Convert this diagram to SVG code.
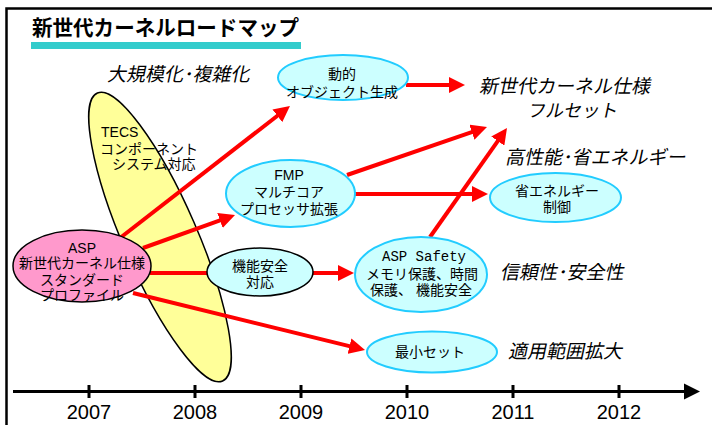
<svg xmlns="http://www.w3.org/2000/svg" width="712" height="425" viewBox="0 0 712 425">
<style>
.t{font-family:"Liberation Sans","Noto Sans CJK JP",sans-serif;font-size:14px;fill:#000;text-anchor:middle}
.it{font-family:"Noto Sans CJK JP",sans-serif;font-size:19px;fill:#000}
.yr{font-family:"Liberation Sans",sans-serif;font-size:20px;fill:#000;text-anchor:middle}
.cy{fill:#CCFFFF;stroke:#22CCFF;stroke-width:2}
.red{stroke:#FF0000;stroke-width:4;fill:none}
.ax{stroke:#000;stroke-width:3}
</style>
<defs>
<marker id="ah" viewBox="0 0 16 16" markerWidth="16" markerHeight="16" markerUnits="userSpaceOnUse" refX="3" refY="8" orient="auto">
<path d="M0,0 L16,8 L0,16 z" fill="#FF0000"/>
</marker>
</defs>
<rect width="712" height="425" fill="#fff"/>
<!-- frame -->
<path d="M6.5,425 V8.5 H712" fill="none" stroke="#000" stroke-width="2.5"/>
<!-- title -->
<g id="title">
<text x="32" y="35" font-family="'Noto Sans CJK JP',sans-serif" font-weight="bold" font-size="21" textLength="267" lengthAdjust="spacingAndGlyphs">新世代カーネルロードマップ</text>
<rect x="31" y="42" width="270" height="7" fill="#33CCCC"/>
</g>
<!-- category labels (italic) -->
<g id="labels">
<text class="it" transform="translate(107,81) skewX(-12)">大規模化･複雑化</text>
<text class="it" transform="translate(479,93) skewX(-12)">新世代カーネル仕様</text>
<text class="it" transform="translate(527,117) skewX(-12)" style="font-size:18px">フルセット</text>
<text class="it" transform="translate(505,164) skewX(-12)">高性能･省エネルギー</text>
<text class="it" transform="translate(500,279) skewX(-12)">信頼性･安全性</text>
<text class="it" transform="translate(508,358) skewX(-12)">適用範囲拡大</text>
</g>
<!-- TECS -->
<g id="tecs">
<ellipse cx="160" cy="237" rx="37" ry="157" transform="rotate(-23.5 160 237)" fill="#FFFF99" stroke="#000" stroke-width="1.5"/>
<text class="t" x="101" y="137" style="text-anchor:start">TECS</text>
<text class="t" x="100" y="154" style="text-anchor:start">コンポーネント</text>
<text class="t" x="112" y="169" style="text-anchor:start">システム対応</text>
</g>
<!-- connectors -->
<g id="connectors">
<line class="red" x1="120" y1="238" x2="279.7" y2="114" marker-end="url(#ah)"/>
<line class="red" x1="143" y1="248" x2="222.8" y2="219.4" marker-end="url(#ah)"/>
<line class="red" x1="150" y1="273" x2="210" y2="273"/>
<line class="red" x1="133" y1="293" x2="352.4" y2="346.9" marker-end="url(#ah)"/>
<line class="red" x1="406" y1="85" x2="452" y2="85" marker-end="url(#ah)"/>
<line class="red" x1="347" y1="175" x2="474.7" y2="131.2" marker-end="url(#ah)"/>
<line class="red" x1="353" y1="194" x2="475" y2="194" marker-end="url(#ah)"/>
<line class="red" x1="312" y1="273" x2="341" y2="273" marker-end="url(#ah)"/>
<line class="red" x1="430" y1="237" x2="499.5" y2="138.6" marker-end="url(#ah)"/>
</g>
<!-- nodes -->
<g id="asp">
<ellipse cx="82" cy="266" rx="69" ry="36" fill="#FF99CC" stroke="#000" stroke-width="1.5"/>
<text class="t" x="82" y="253">ASP</text>
<text class="t" x="82" y="268">新世代カーネル仕様</text>
<text class="t" x="82" y="285">スタンダード</text>
<text class="t" x="82" y="300">プロファイル</text>
</g>
<g id="dynamic">
<ellipse class="cy" cx="343" cy="77.5" rx="65" ry="22.5"/>
<text class="t" x="342" y="79">動的</text>
<text class="t" x="342" y="97">オブジェクト生成</text>
</g>
<g id="fmp">
<ellipse class="cy" cx="290.5" cy="193.5" rx="64.5" ry="33.5"/>
<text class="t" x="289" y="180">FMP</text>
<text class="t" x="289" y="197">マルチコア</text>
<text class="t" x="289" y="213.5">プロセッサ拡張</text>
</g>
<g id="funcsafety">
<ellipse cx="260" cy="272" rx="53" ry="24" fill="#CCFFFF" stroke="#000" stroke-width="1.5"/>
<text class="t" x="260" y="270.5">機能安全</text>
<text class="t" x="260" y="287">対応</text>
</g>
<g id="energy">
<ellipse class="cy" cx="555.5" cy="197.5" rx="65.5" ry="24.5"/>
<text class="t" x="557" y="196">省エネルギー</text>
<text class="t" x="557" y="212">制御</text>
</g>
<g id="aspsafety">
<ellipse class="cy" cx="421" cy="274.5" rx="66" ry="37.5"/>
<text class="t" x="424" y="261" style="font-family:'Liberation Mono',monospace;font-size:14px">ASP Safety</text>
<text class="t" x="422" y="279">メモリ保護、時間</text>
<text class="t" x="421" y="295">保護、 機能安全</text>
</g>
<g id="minimal">
<ellipse class="cy" cx="432" cy="352" rx="65" ry="20.5"/>
<text class="t" x="430" y="357">最小セット</text>
</g>
<!-- time axis -->
<g id="axis">
<line class="ax" x1="13" y1="391.5" x2="686" y2="391.5"/>
<polygon points="684,383.5 700,391.5 684,399.5" fill="#000"/>
<path class="ax" d="M89,385 V398 M195,385 V398 M301,385 V398 M407,385 V398 M513,385 V398 M619,385 V398"/>
<text class="yr" x="89" y="419">2007</text>
<text class="yr" x="195" y="419">2008</text>
<text class="yr" x="301" y="419">2009</text>
<text class="yr" x="407" y="419">2010</text>
<text class="yr" x="513" y="419">2011</text>
<text class="yr" x="619" y="419">2012</text>
</g>
</svg>
